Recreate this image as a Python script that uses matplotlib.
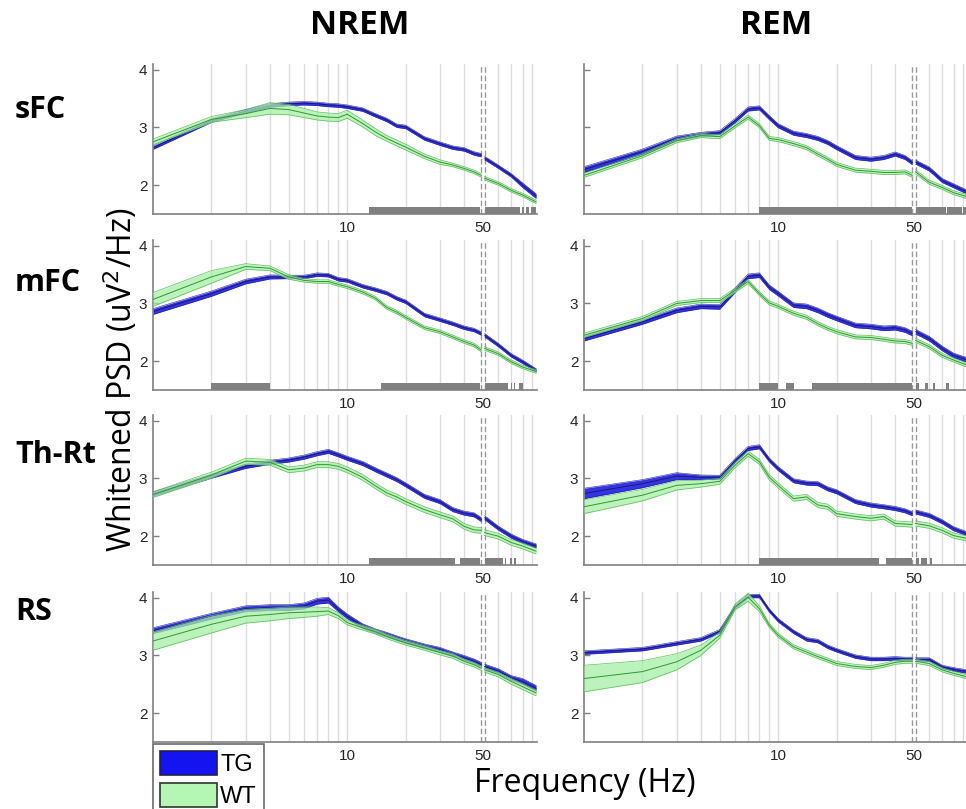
import numpy as np
import matplotlib
matplotlib.use('Agg')
import matplotlib.pyplot as plt
from matplotlib.patches import Patch
from matplotlib.ticker import NullLocator


freqs = [1, 2, 3, 4, 5, 6, 7, 8, 9, 10, 12, 14, 16, 18, 20, 25, 30, 35, 40, 45, 49, 51, 60, 70, 80, 94]

# ---- NREM ----
nrem_sfc_tg = [2.65, 3.12, 3.28, 3.38, 3.41, 3.42, 3.41, 3.39, 3.38, 3.36, 3.31, 3.21, 3.13, 3.03, 3.01,
               2.81, 2.72, 2.65, 2.62, 2.55, 2.52, 2.47, 2.32, 2.17, 2.00, 1.81]
nrem_sfc_tg_sem = [0.03, 0.03, 0.03, 0.03, 0.03, 0.03, 0.03, 0.03, 0.03, 0.03, 0.03, 0.03, 0.03, 0.03, 0.03,
                   0.03, 0.03, 0.03, 0.03, 0.03, 0.03, 0.03, 0.03, 0.03, 0.04, 0.04]
nrem_sfc_wt = [2.75, 3.14, 3.24, 3.33, 3.31, 3.25, 3.20, 3.18, 3.17, 3.23, 3.07, 2.92, 2.81, 2.73, 2.66,
               2.50, 2.40, 2.35, 2.29, 2.23, 2.17, 2.12, 2.03, 1.91, 1.83, 1.71]
nrem_sfc_wt_sem = [0.05, 0.05, 0.07, 0.10, 0.09, 0.08, 0.07, 0.07, 0.07, 0.07, 0.06, 0.06, 0.05, 0.05, 0.05,
                   0.04, 0.04, 0.03, 0.03, 0.03, 0.03, 0.03, 0.03, 0.03, 0.03, 0.03]

nrem_mfc_tg = [2.86, 3.17, 3.38, 3.46, 3.46, 3.46, 3.50, 3.49, 3.42, 3.40, 3.30, 3.24, 3.18, 3.09, 3.03,
               2.80, 2.72, 2.65, 2.58, 2.54, 2.48, 2.45, 2.28, 2.10, 1.99, 1.84]
nrem_mfc_tg_sem = [0.05, 0.045, 0.04, 0.035, 0.03, 0.03, 0.03, 0.03, 0.03, 0.03, 0.03, 0.03, 0.03, 0.03, 0.03,
                   0.03, 0.03, 0.03, 0.03, 0.03, 0.03, 0.03, 0.03, 0.03, 0.03, 0.03]
nrem_mfc_wt = [3.07, 3.46, 3.64, 3.61, 3.46, 3.40, 3.38, 3.38, 3.33, 3.29, 3.20, 3.09, 2.93, 2.85, 2.76,
               2.58, 2.51, 2.42, 2.34, 2.28, 2.19, 2.22, 2.13, 1.99, 1.90, 1.82]
nrem_mfc_wt_sem = [0.12, 0.11, 0.05, 0.04, 0.04, 0.03, 0.03, 0.03, 0.03, 0.03, 0.03, 0.03, 0.03, 0.03, 0.03,
                   0.03, 0.03, 0.03, 0.03, 0.03, 0.03, 0.03, 0.03, 0.03, 0.03, 0.03]

nrem_thrt_tg = [2.73, 3.04, 3.21, 3.28, 3.32, 3.37, 3.43, 3.47, 3.41, 3.35, 3.26, 3.15, 3.06, 2.98, 2.89,
                2.69, 2.60, 2.46, 2.40, 2.37, 2.29, 2.32, 2.14, 2.00, 1.91, 1.83]
nrem_thrt_tg_sem = [0.035] * 26
nrem_thrt_wt = [2.72, 3.06, 3.30, 3.28, 3.15, 3.18, 3.24, 3.24, 3.21, 3.15, 3.02, 2.87, 2.75, 2.68, 2.60,
                2.46, 2.37, 2.30, 2.17, 2.11, 2.10, 2.06, 2.00, 1.89, 1.83, 1.74]
nrem_thrt_wt_sem = [0.05] * 26

nrem_rs_tg = [3.43, 3.68, 3.81, 3.83, 3.83, 3.86, 3.94, 3.96, 3.80, 3.68, 3.51, 3.42, 3.36, 3.30, 3.25,
              3.16, 3.10, 3.02, 2.96, 2.90, 2.84, 2.81, 2.73, 2.61, 2.55, 2.43]
nrem_rs_tg_sem = [0.05, 0.05, 0.05, 0.05, 0.05, 0.05, 0.05, 0.05, 0.04, 0.04, 0.04, 0.04, 0.04, 0.04, 0.04,
                  0.04, 0.04, 0.04, 0.04, 0.04, 0.04, 0.04, 0.04, 0.04, 0.05, 0.05]
nrem_rs_wt = [3.25, 3.54, 3.68, 3.71, 3.74, 3.75, 3.76, 3.77, 3.69, 3.57, 3.48, 3.41, 3.33, 3.27, 3.22,
              3.13, 3.05, 2.99, 2.90, 2.84, 2.78, 2.75, 2.67, 2.55, 2.46, 2.35]
nrem_rs_wt_sem = [0.16, 0.15, 0.12, 0.11, 0.10, 0.09, 0.08, 0.06, 0.05, 0.04, 0.04, 0.04, 0.04, 0.04, 0.04,
                  0.04, 0.04, 0.04, 0.04, 0.04, 0.04, 0.04, 0.04, 0.05, 0.05, 0.05]

# ---- REM ----
rem_sfc_tg = [2.27, 2.58, 2.81, 2.88, 2.91, 3.12, 3.32, 3.34, 3.17, 3.03, 2.90, 2.86, 2.81, 2.74, 2.65,
              2.48, 2.45, 2.48, 2.54, 2.48, 2.39, 2.40, 2.28, 2.08, 1.99, 1.88]
rem_sfc_tg_sem = [0.05, 0.045, 0.04, 0.035, 0.035, 0.035, 0.035, 0.035, 0.035, 0.035, 0.035, 0.035, 0.035,
                  0.035, 0.035, 0.035, 0.035, 0.035, 0.035, 0.035, 0.035, 0.035, 0.035, 0.035, 0.035, 0.035]
rem_sfc_wt = [2.17, 2.51, 2.77, 2.86, 2.84, 3.03, 3.18, 3.03, 2.81, 2.79, 2.72, 2.65, 2.54, 2.45, 2.36,
              2.26, 2.24, 2.22, 2.22, 2.23, 2.17, 2.23, 2.05, 1.96, 1.87, 1.80]
rem_sfc_wt_sem = [0.035] * 26

rem_mfc_tg = [2.39, 2.68, 2.88, 2.95, 2.94, 3.23, 3.47, 3.49, 3.28, 3.17, 2.97, 2.95, 2.88, 2.80, 2.74,
              2.62, 2.60, 2.57, 2.58, 2.54, 2.48, 2.51, 2.39, 2.22, 2.10, 2.02]
rem_mfc_tg_sem = [0.04] * 26
rem_mfc_wt = [2.45, 2.74, 3.00, 3.05, 3.05, 3.23, 3.38, 3.17, 3.01, 2.95, 2.83, 2.76, 2.65, 2.57, 2.51,
              2.42, 2.41, 2.38, 2.35, 2.34, 2.31, 2.36, 2.25, 2.10, 2.02, 1.93]
rem_mfc_wt_sem = [0.035] * 26

rem_thrt_tg = [2.74, 2.91, 3.04, 3.02, 3.02, 3.31, 3.52, 3.55, 3.32, 3.17, 2.96, 2.92, 2.91, 2.82, 2.77,
               2.60, 2.54, 2.51, 2.48, 2.44, 2.39, 2.42, 2.36, 2.25, 2.13, 2.04]
rem_thrt_tg_sem = [0.09, 0.07, 0.06, 0.04, 0.035, 0.035, 0.035, 0.035, 0.035, 0.035, 0.035, 0.035, 0.035,
                   0.035, 0.035, 0.035, 0.035, 0.035, 0.035, 0.035, 0.035, 0.035, 0.035, 0.035, 0.035, 0.035]
rem_thrt_wt = [2.51, 2.71, 2.88, 2.91, 2.95, 3.23, 3.43, 3.29, 3.02, 2.88, 2.65, 2.68, 2.54, 2.51, 2.39,
               2.34, 2.31, 2.34, 2.22, 2.21, 2.20, 2.22, 2.18, 2.10, 2.01, 1.96]
rem_thrt_wt_sem = [0.12, 0.10, 0.08, 0.06, 0.05, 0.045, 0.045, 0.045, 0.045, 0.045, 0.045, 0.045, 0.045,
                   0.045, 0.045, 0.045, 0.045, 0.045, 0.045, 0.045, 0.045, 0.045, 0.045, 0.045, 0.045, 0.045]

rem_rs_tg = [3.05, 3.11, 3.21, 3.28, 3.42, 3.84, 4.03, 4.03, 3.78, 3.61, 3.41, 3.28, 3.25, 3.15, 3.09,
             2.98, 2.94, 2.94, 2.95, 2.94, 2.94, 2.93, 2.93, 2.80, 2.76, 2.72]
rem_rs_tg_sem = [0.03] * 26
rem_rs_wt = [2.60, 2.72, 2.89, 3.09, 3.35, 3.84, 4.01, 3.81, 3.52, 3.35, 3.15, 3.06, 2.98, 2.92, 2.86,
             2.81, 2.79, 2.83, 2.88, 2.90, 2.90, 2.90, 2.86, 2.75, 2.69, 2.63]
rem_rs_wt_sem = [0.23, 0.19, 0.14, 0.09, 0.05, 0.05, 0.07, 0.05, 0.035, 0.035, 0.035, 0.035, 0.035, 0.035,
                 0.035, 0.035, 0.035, 0.035, 0.035, 0.035, 0.035, 0.035, 0.035, 0.035, 0.035, 0.035]

# significant frequency ranges (Hz) shown as grey bars
sig_nrem_sfc = [(13, 48.5), (51, 78), (79.5, 81.5), (83.4, 86.2), (88.5, 94)]
sig_rem_sfc = [(8, 48.8), (51.2, 73), (74, 88), (89.5, 94)]
sig_nrem_mfc = [(2, 4), (15, 48.6), (51.2, 67.5), (69.5, 70.5), (72, 73), (76.6, 80.5)]
sig_rem_mfc = [(8, 10), (11, 12.1), (15, 49), (51, 53.4), (57, 59.3), (63, 64.4), (73.5, 76)]
sig_nrem_thrt = [(13, 36), (38, 48.5), (51, 63.5), (65, 66), (69, 70.5), (72, 74)]
sig_rem_thrt = [(8, 33), (35.8, 49), (51, 53), (54.4, 58.1), (60.3, 61.7)]
sig_nrem_rs = []
sig_rem_rs = []

regions = ['sFC', 'mFC', 'Th-Rt', 'RS']
states = ['NREM', 'REM']

grid_freqs = [2, 3, 4, 5, 6, 7, 8, 9, 10, 20, 30, 40, 60, 70, 80, 90]
notch = [49, 51]

tg_fill = '#3434e0'
tg_edge = '#2424a8'
tg_line = '#16166a'
wt_fill = '#a6eea6'
wt_edge = '#5cbf5c'
wt_line = '#2e9a2e'

plt.rcParams['font.family'] = ['Liberation Sans', 'DejaVu Sans']

W, H = 966, 809
fig = plt.figure(figsize=(W / 100, H / 100), dpi=100)
fig.patch.set_facecolor('white')

panels = [
    [(nrem_sfc_tg, nrem_sfc_tg_sem, nrem_sfc_wt, nrem_sfc_wt_sem, sig_nrem_sfc),
     (rem_sfc_tg, rem_sfc_tg_sem, rem_sfc_wt, rem_sfc_wt_sem, sig_rem_sfc)],
    [(nrem_mfc_tg, nrem_mfc_tg_sem, nrem_mfc_wt, nrem_mfc_wt_sem, sig_nrem_mfc),
     (rem_mfc_tg, rem_mfc_tg_sem, rem_mfc_wt, rem_mfc_wt_sem, sig_rem_mfc)],
    [(nrem_thrt_tg, nrem_thrt_tg_sem, nrem_thrt_wt, nrem_thrt_wt_sem, sig_nrem_thrt),
     (rem_thrt_tg, rem_thrt_tg_sem, rem_thrt_wt, rem_thrt_wt_sem, sig_rem_thrt)],
    [(nrem_rs_tg, nrem_rs_tg_sem, nrem_rs_wt, nrem_rs_wt_sem, sig_nrem_rs),
     (rem_rs_tg, rem_rs_tg_sem, rem_rs_wt, rem_rs_wt_sem, sig_rem_rs)],
]

col_left = [153, 584]
row_bottom = [214, 390, 565, 742]
ax_w, ax_h = 384, 150

f = np.array(freqs, dtype=float)

for r in range(4):
    for c in range(2):
        tg, tg_sem, wt, wt_sem, sig = panels[r][c]
        ax = fig.add_axes([col_left[c] / W, 1 - row_bottom[r] / H, ax_w / W, ax_h / H])
        ax.set_xscale('log')

        for g in grid_freqs:
            ax.axvline(g, color='#dcdcdc', lw=1, zorder=0)
        for n in notch:
            ax.axvline(n, color='#9a9a9a', lw=1, ls=(0, (4, 2)), zorder=1)

        tg = np.array(tg); tg_sem = np.array(tg_sem)
        wt = np.array(wt); wt_sem = np.array(wt_sem)
        for part in (f < 50, f > 50):
            x = f[part]
            ax.fill_between(x, tg[part] - tg_sem[part], tg[part] + tg_sem[part],
                            color=tg_fill, lw=0, zorder=2)
            ax.plot(x, tg[part] - tg_sem[part], color=tg_edge, lw=0.4, zorder=2)
            ax.plot(x, tg[part] + tg_sem[part], color=tg_edge, lw=0.4, zorder=2)
            ax.plot(x, tg[part], color=tg_line, lw=0.6, zorder=2)
            ax.fill_between(x, wt[part] - wt_sem[part], wt[part] + wt_sem[part],
                            color=wt_fill, alpha=0.75, lw=0, zorder=3)
            ax.plot(x, wt[part] - wt_sem[part], color=wt_edge, lw=0.5, zorder=3)
            ax.plot(x, wt[part] + wt_sem[part], color=wt_edge, lw=0.5, zorder=3)
            ax.plot(x, wt[part], color=wt_line, lw=0.7, zorder=3)

        for a, b in sig:
            ax.broken_barh([(a, b - a)], (1.5, 0.12), color='#808080', lw=0, zorder=4)

        ax.set_xlim(1, 95)
        ax.set_ylim(1.5, 4.1)
        ax.set_xticks([10, 50])
        ax.set_xticklabels(['10', '50'])
        ax.xaxis.set_minor_locator(NullLocator())
        ax.set_yticks([2, 3, 4])
        ax.tick_params(axis='x', length=0, pad=5, labelsize=11, labelcolor='#262626')
        ax.tick_params(axis='y', direction='in', length=4, width=1, color='#808080',
                       pad=4, labelsize=11, labelcolor='#262626')
        if r == 0 and c == 1:
            ax.set_yticklabels([])
        for s in ['top', 'right']:
            ax.spines[s].set_visible(False)
        for s in ['left', 'bottom']:
            ax.spines[s].set_color('#808080')
            ax.spines[s].set_linewidth(1.2)
        ax.set_facecolor('none')

title_font = ['Open Sans', 'DejaVu Sans']
fig.text(360 / W, 1 - 25 / H, states[0], ha='center', va='center', fontsize=24,
         fontweight='bold', family=title_font)
fig.text(776 / W, 1 - 25 / H, states[1], ha='center', va='center', fontsize=24,
         fontweight='bold', family=title_font)
row_y = [110, 283, 455, 612]
for name, y in zip(regions, row_y):
    fig.text(15 / W, 1 - y / H, name, ha='left', va='center', fontsize=22,
             fontweight='bold', family=title_font)

fig.text(121 / W, 1 - 380 / H, 'Whitened PSD (uV$^2$/Hz)', rotation=90, ha='center', va='center',
         fontsize=23, family=title_font)
fig.text(585 / W, 1 - 783 / H, 'Frequency (Hz)', ha='center', va='center', fontsize=23,
         family=title_font)

handles = [Patch(facecolor='#1414f0', edgecolor='#202050', lw=1.2, label='TG'),
           Patch(facecolor='#b4f7b4', edgecolor='#2a3a2a', lw=1.2, label='WT')]
leg = fig.legend(handles=handles, loc='upper left', bbox_to_anchor=(153 / W, 1 - 744 / H),
                 frameon=True, fancybox=False, edgecolor='#444444', fontsize=17,
                 handlelength=2.4, handleheight=1.2, handletextpad=0.15, borderpad=0.3,
                 labelspacing=0.3, borderaxespad=0)
leg.get_frame().set_linewidth(1.2)

fig.savefig('out.png', dpi=100, facecolor='white')
